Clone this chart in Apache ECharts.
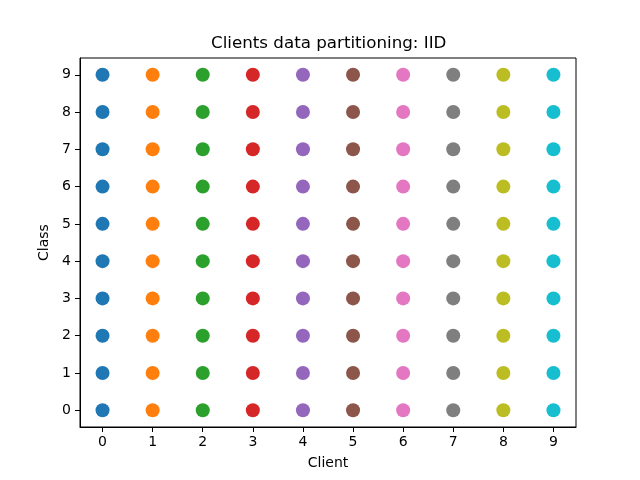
<!DOCTYPE html>
<html>
<head>
<meta charset="utf-8">
<script src="https://cdn.jsdelivr.net/npm/echarts@6/dist/echarts.min.js"></script>
<style>html,body{margin:0;padding:0;background:#fff;}#chart{width:640px;height:480px;}</style>
</head>
<body>
<div id="chart"></div>
<script>
const clients = [0, 1, 2, 3, 4, 5, 6, 7, 8, 9];
const classes = [0, 1, 2, 3, 4, 5, 6, 7, 8, 9];
const tickValues = [0, 1, 2, 3, 4, 5, 6, 7, 8, 9];
const colors = ['#1f77b4', '#ff7f0e', '#2ca02c', '#d62728', '#9467bd', '#8c564b', '#e377c2', '#7f7f7f', '#bcbd22', '#17becf'];

const font = 'DejaVu Sans';
const chart = echarts.init(document.getElementById('chart'));
const series = clients.map((c, i) => ({
  type: 'scatter',
  data: classes.map(k => [c, k]),
  symbolSize: 14,
  itemStyle: { color: colors[i], opacity: 1 },
  silent: true
}));

function axisCommon(name, gap, rotate) {
  return {
    type: 'value',
    min: -0.45,
    max: 9.45,
    name: name,
    nameLocation: 'middle',
    nameGap: gap,
    nameRotate: rotate,
    nameTextStyle: { fontFamily: font, fontSize: 14, color: '#000' },
    axisLine: { show: true, onZero: false, lineStyle: { color: '#000', width: 1 } },
    axisTick: { show: true, length: 5, customValues: tickValues, lineStyle: { color: '#000', width: 1 } },
    axisLabel: { customValues: tickValues, fontFamily: font, fontSize: 14, color: '#000', margin: 8 },
    splitLine: { show: false }
  };
}

const xAxis = axisCommon('Client', 29, 0);
const yAxis = axisCommon('Class', 22, 90);
yAxis.axisLabel.margin = 9;

chart.setOption({
  animation: false,
  backgroundColor: '#fff',
  title: {
    text: 'Clients data partitioning: IID',
    left: 206,
    top: 30,
    textStyle: { fontFamily: font, fontSize: 16.7, fontWeight: 'normal', color: '#000' }
  },
  grid: { left: 80, right: 64, top: 58, bottom: 53, show: true, borderColor: '#000', borderWidth: 1, backgroundColor: 'transparent' },
  xAxis: xAxis,
  yAxis: yAxis,
  series: series
});
</script>
</body>
</html>
